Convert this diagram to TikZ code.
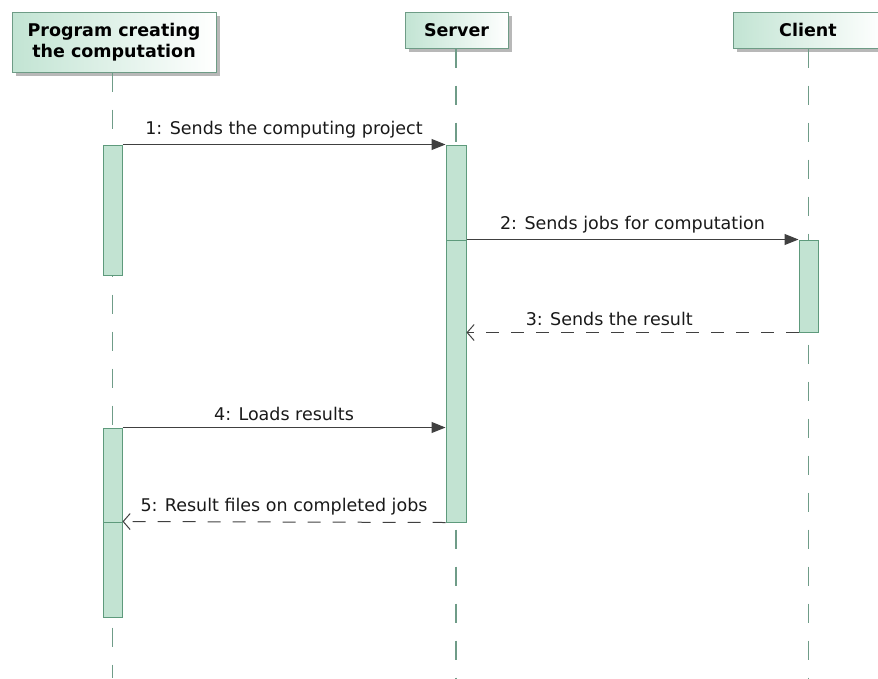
\documentclass[tikz,border=0pt]{standalone}
\usepackage{fontspec}
\setmainfont{DejaVu Sans}
\usetikzlibrary{arrows.meta,shadows}
\definecolor{hdrgreen}{HTML}{C2E4D3}
\definecolor{hdrline}{HTML}{6E9C86}
\definecolor{barfill}{HTML}{C2E3D2}
\definecolor{barline}{HTML}{5E9A7C}
\definecolor{lifegray}{HTML}{6F9C88}
\definecolor{msgcol}{HTML}{404040}
\begin{document}
\begin{tikzpicture}[x=1pt,y=-1pt,
  every node/.style={font=\fontsize{17.5}{21}\selectfont},
  header/.style={draw=hdrline,line width=1pt,left color=hdrgreen,right color=white,
    drop shadow={shadow xshift=4pt,shadow yshift=-4pt,fill=black!28,opacity=1},
    inner sep=0pt,font=\fontsize{17.5}{21}\selectfont\bfseries,align=center},
  activ/.style={draw=barline,fill=barfill,line width=1pt,minimum width=19pt,inner sep=0pt},
  lifeline/.style={draw=lifegray,line width=1.2pt,dash pattern=on 19pt off 18pt},
  msg/.style={draw=msgcol,line width=1pt,-{Triangle[length=14pt,width=11pt]}},
  reply/.style={draw=msgcol,line width=1pt,dash pattern=on 13pt off 12pt,
    -{Straight Barb[length=7pt,width=16pt]}},
  lbl/.style={above=5pt,inner sep=1pt,text=black!90},
  ]
\useasboundingbox (0,0) rectangle (878,678);
% participants
\node[header,minimum width=204pt,minimum height=60pt] (prog) at (114,42) {Program creating\\the computation};
\node[header,minimum width=103pt,minimum height=36pt] (server) at (456.5,30) {Server};
\node[header,minimum width=150pt,minimum height=36pt] (client) at (808,30) {Client};
\coordinate (progend) at (112.5,678);
\coordinate (serverend) at (456,678);
\coordinate (clientend) at (808.5,678);
\draw[lifeline] (progend |- prog.south) -- (progend);
\draw[lifeline] (serverend |- server.south) -- (serverend);
\draw[lifeline] (clientend |- client.south) -- (clientend);
% activations
\node[activ,minimum height=130pt] (progA) at (112.5,210) {};
\node[activ,minimum height=94pt] (progB) at (112.5,475) {};
\node[activ,minimum height=95pt] (progC) at (112.5,569.5) {};
\node[activ,minimum width=20pt,minimum height=95pt] (srvA) at (456,192.5) {};
\node[activ,minimum width=20pt,minimum height=282pt] (srvB) at (456,381) {};
\node[activ,minimum height=92pt] (cliA) at (808.5,286) {};
% messages
\draw[msg] (progA.north east) -- node[lbl]{1: Sends the computing project} (srvA.north west);
\draw[msg] (srvB.north east) -- node[lbl]{2: Sends jobs for computation} (cliA.north west);
\draw[reply] (cliA.south west) -- node[lbl,pos=0.57]{3: Sends the result} (srvB.east |- cliA.south);
\draw[msg] (progB.north east) -- node[lbl]{4: Loads results} (srvB.west |- progB.north);
\draw[reply] (srvB.south west) -- node[lbl]{5: Result files on completed jobs} (progC.north east);
\end{tikzpicture}
\end{document}
